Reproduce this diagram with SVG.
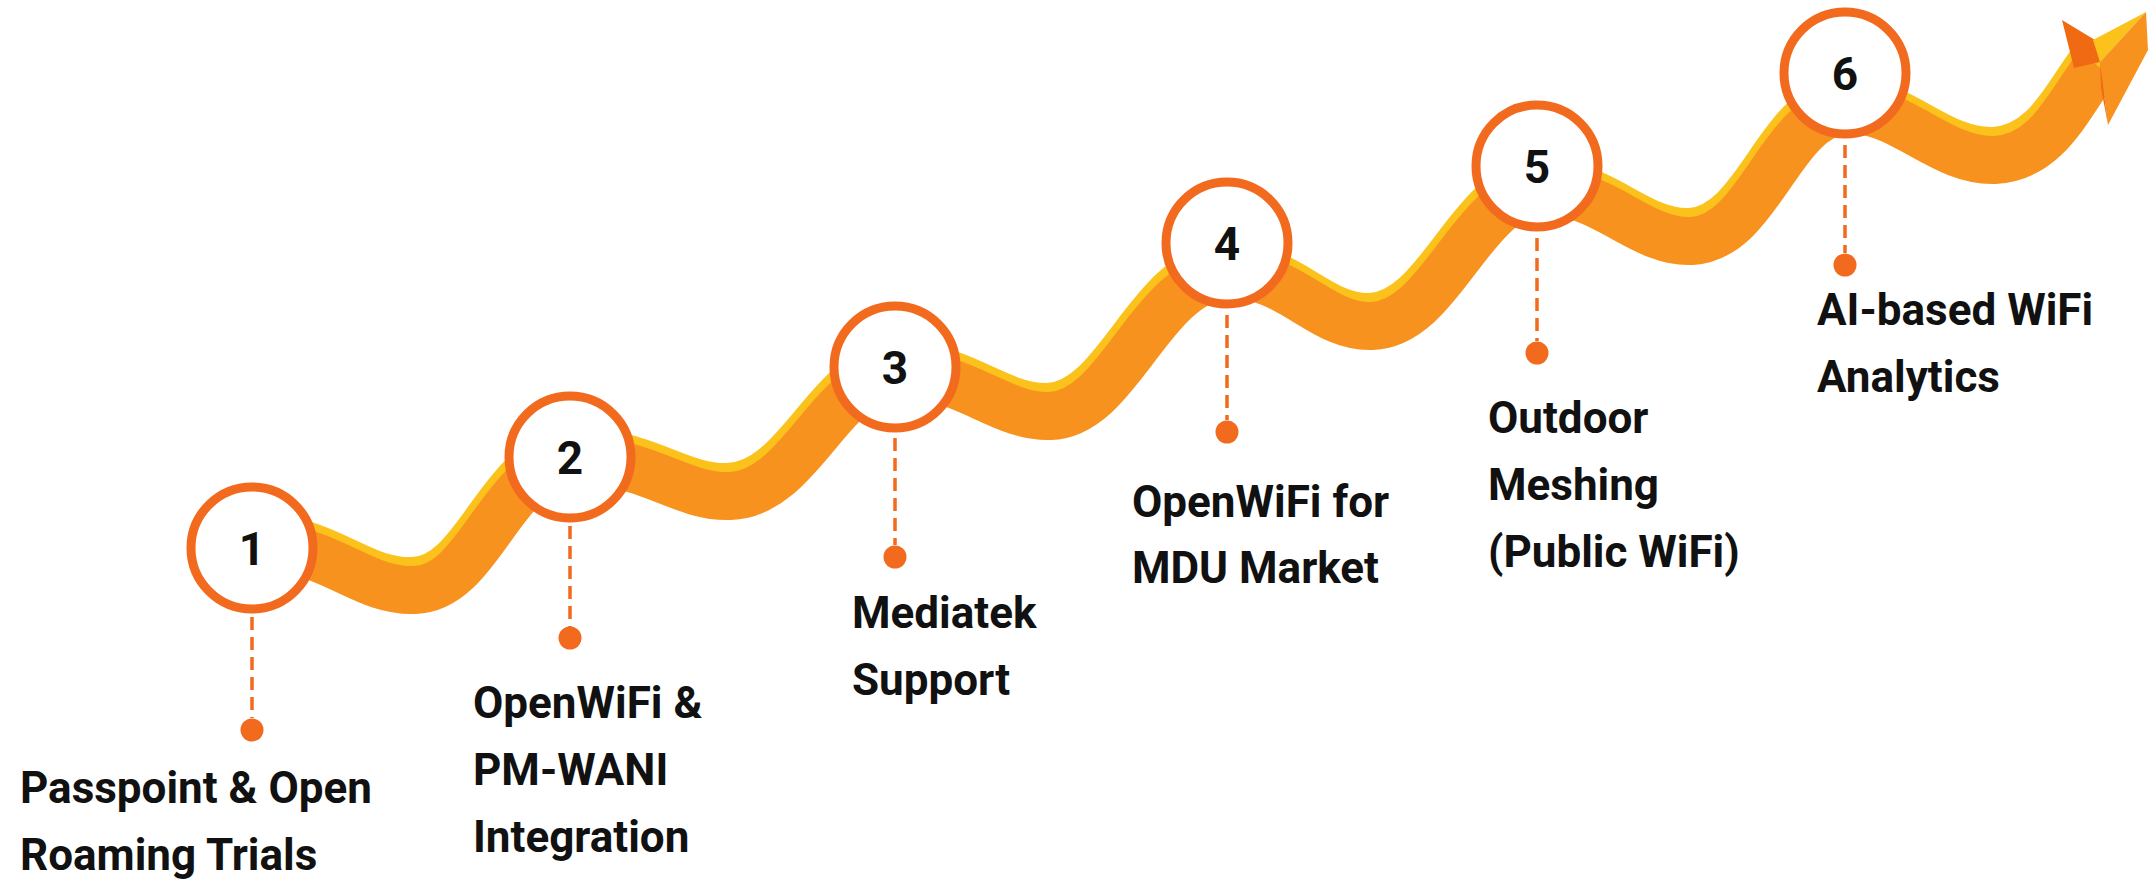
<svg xmlns="http://www.w3.org/2000/svg" width="2149" height="882" viewBox="0 0 2149 882">
<defs>
<style>
.band-y{fill:none;stroke:#FBC21C;stroke-width:48;stroke-linecap:butt;stroke-linejoin:round}
.band-o{fill:none;stroke:#F8921E;stroke-width:48;stroke-linecap:butt;stroke-linejoin:round}
.ring{fill:#FFFFFF;stroke:#F26A1E;stroke-width:9}
.num{font-family:Roboto,"Liberation Sans",sans-serif;font-weight:700;font-size:46px;fill:#111111;text-anchor:middle}
.lbl{font-family:Roboto,"Liberation Sans",sans-serif;font-weight:700;font-size:44px;fill:#111111}
.dash{stroke:#F26A1E;stroke-width:3.5;stroke-dasharray:13 7;fill:none}
.dot{fill:#F26A1E}
</style>
</defs>
<rect width="2149" height="882" fill="#FFFFFF"/>
<g id="ribbon">
<path class="band-y" transform="translate(-2,-9)" d="M250 545 C330 545 360 592 415 590 C480 588 500 470 570 462 C640 455 680 498 730 496 C800 494 830 380 895 375 C960 370 1000 418 1050 416 C1120 414 1150 280 1227 275 C1290 272 1320 328 1372 326 C1440 324 1470 200 1537 192 C1600 186 1640 244 1692 241 C1760 237 1780 115 1845 110 C1900 106 1940 162 1995 160 C2050 157 2070 100 2098 66"/>
<path class="band-o" d="M250 545 C330 545 360 592 415 590 C480 588 500 470 570 462 C640 455 680 498 730 496 C800 494 830 380 895 375 C960 370 1000 418 1050 416 C1120 414 1150 280 1227 275 C1290 272 1320 328 1372 326 C1440 324 1470 200 1537 192 C1600 186 1640 244 1692 241 C1760 237 1780 115 1845 110 C1900 106 1940 162 1995 160 C2050 157 2070 100 2098 66"/>
<polygon points="2062,20 2095,40 2100,62 2074,68" fill="#F06A14"/>
<polygon points="2093,40 2146,12 2100,62" fill="#FBC21C"/>
<polygon points="2146,12 2148,50 2108,125 2100,62" fill="#F8921E"/>
<polygon points="2100,62 2108,125 2101,88" fill="#F06A14"/>
</g>
<g id="connectors">
<line class="dash" x1="252" y1="617" x2="252" y2="718"/>
<circle class="dot" cx="252" cy="730" r="11.5"/>
<line class="dash" x1="570" y1="526" x2="570" y2="627"/>
<circle class="dot" cx="570" cy="638" r="11.5"/>
<line class="dash" x1="895" y1="438" x2="895" y2="545"/>
<circle class="dot" cx="895" cy="557" r="11.5"/>
<line class="dash" x1="1227" y1="315" x2="1227" y2="420"/>
<circle class="dot" cx="1227" cy="432" r="11.5"/>
<line class="dash" x1="1537" y1="238" x2="1537" y2="341"/>
<circle class="dot" cx="1537" cy="353" r="11.5"/>
<line class="dash" x1="1845" y1="145" x2="1845" y2="253"/>
<circle class="dot" cx="1845" cy="265" r="11.5"/>
</g>
<g id="node1">
<circle class="ring" cx="252" cy="548" r="61"/>
<text class="num" x="252" y="565">1</text>
<text class="lbl" x="20" y="803">Passpoint &amp; Open</text>
<text class="lbl" x="20" y="870">Roaming Trials</text>
</g>
<g id="node2">
<circle class="ring" cx="570" cy="457" r="61"/>
<text class="num" x="570" y="474">2</text>
<text class="lbl" x="473" y="718">OpenWiFi &amp;</text>
<text class="lbl" x="473" y="785">PM-WANI</text>
<text class="lbl" x="473" y="852">Integration</text>
</g>
<g id="node3">
<circle class="ring" cx="895" cy="367" r="61"/>
<text class="num" x="895" y="384">3</text>
<text class="lbl" x="852" y="628">Mediatek</text>
<text class="lbl" x="852" y="695">Support</text>
</g>
<g id="node4">
<circle class="ring" cx="1227" cy="243" r="61"/>
<text class="num" x="1227" y="260">4</text>
<text class="lbl" x="1132" y="517">OpenWiFi for</text>
<text class="lbl" x="1132" y="583">MDU Market</text>
</g>
<g id="node5">
<circle class="ring" cx="1537" cy="166" r="61"/>
<text class="num" x="1537" y="183">5</text>
<text class="lbl" x="1488" y="433">Outdoor</text>
<text class="lbl" x="1488" y="500">Meshing</text>
<text class="lbl" x="1488" y="567">(Public WiFi)</text>
</g>
<g id="node6">
<circle class="ring" cx="1845" cy="73" r="61"/>
<text class="num" x="1845" y="90">6</text>
<text class="lbl" x="1817" y="325">AI-based WiFi</text>
<text class="lbl" x="1817" y="392">Analytics</text>
</g>
</svg>
